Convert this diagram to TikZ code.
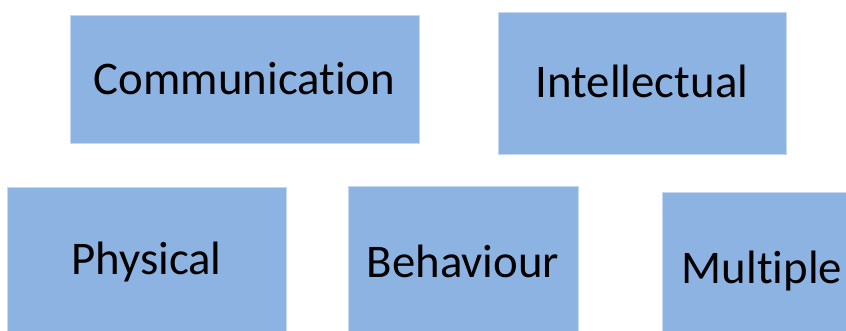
\documentclass[tikz,border=0pt]{standalone}
\usepackage{fontspec}
\setmainfont[Ligatures={NoCommon,NoRare,NoContextual}]{Carlito}
\definecolor{boxfill}{HTML}{8DB3E2}
\definecolor{boxedge}{HTML}{C6D8F0}
\begin{document}
\begin{tikzpicture}[x=1pt,y=-1pt,
  catbox/.style={draw=boxedge, line width=0.8pt, fill=boxfill, inner sep=0pt, rectangle},
  catlabel/.style={anchor=base, inner sep=0pt, font=\fontsize{46.8}{50}\selectfont, text=black}]
\useasboundingbox (0,0) rectangle (846,331);
\clip (0,0) rectangle (846,331);
\node[catbox, minimum width=349pt, minimum height=128pt] (comm) at (244.5,79) {};
\node[catbox, minimum width=288pt, minimum height=142pt] (intel) at (642,83) {};
\node[catbox, minimum width=279pt, minimum height=152pt] (phys) at (146.5,263) {};
\node[catbox, minimum width=230pt, minimum height=152pt] (behav) at (463,262) {};
\node[catbox, minimum width=200pt, minimum height=150pt] (mult) at (762,267) {};
\node[catlabel] (commT) at (244.5,95) {Communication};
\node[catlabel] (intelT) at (642,98) {Intellectual};
\node[catlabel] (physT) at (146.5,274) {Physical};
\node[catlabel] (behavT) at (463,277) {Behaviour};
\node[catlabel] (multT) at (762,283) {Multiple};
\end{tikzpicture}
\end{document}
